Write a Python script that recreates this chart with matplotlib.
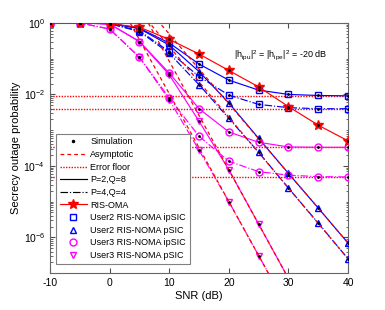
import numpy as np
import matplotlib
matplotlib.use("Agg")
import matplotlib.pyplot as plt
from matplotlib.lines import Line2D
from matplotlib.ticker import FixedLocator, LogLocator, NullFormatter

plt.rcParams["font.family"] = ["Liberation Sans", "DejaVu Sans"]
plt.rcParams["mathtext.fontset"] = "custom"
plt.rcParams["mathtext.rm"] = "Liberation Sans"
plt.rcParams["axes.unicode_minus"] = False

# SNR (dB) and outage probabilities as log10 exponents
snr = [-10, -5, 0, 5, 10, 15, 20, 25, 30, 35, 40]
oma = [0, 0, -0.02, -0.12, -0.46, -0.87, -1.33, -1.79, -2.34, -2.86, -3.30]
u2_ipsic_p2 = [0, 0, -0.01, -0.15, -0.56, -1.15, -1.60, -1.88, -2.00, -2.03, -2.04]
u2_ipsic_p4 = [0, 0, -0.02, -0.22, -0.80, -1.50, -2.02, -2.28, -2.37, -2.40, -2.40]
u2_psic_p2 = [0, 0, -0.01, -0.16, -0.62, -1.36, -2.24, -3.23, -4.21, -5.18, -6.16]
u2_psic_p4 = [0, 0, -0.02, -0.24, -0.85, -1.73, -2.67, -3.62, -4.62, -5.60, -6.60]
u3_ipsic_p2 = [0, 0, -0.03, -0.52, -1.40, -2.40, -3.05, -3.34, -3.47, -3.48, -3.48]
u3_ipsic_p4 = [0, 0, -0.17, -0.96, -2.10, -3.17, -3.87, -4.16, -4.26, -4.30, -4.31]
snr_u3 = [-10, -5, 0, 5, 10, 15, 20, 25, 30]
u3_psic_p2 = [0, 0, -0.03, -0.52, -1.45, -2.75, -4.11, -5.63, -7.15]
u3_psic_p4 = [0, 0, -0.17, -0.96, -2.15, -3.56, -5.00, -6.51, -8.02]

# asymptotes (red dashed) and error floors (red dotted)
snr_asym = [0, 5, 10, 15, 20, 25, 30, 35, 40]
asym_u2_p2 = [1.64, 0.66, -0.31, -1.29, -2.26, -3.24, -4.21, -5.18, -6.16]
asym_u2_p4 = [1.33, 0.34, -0.66, -1.65, -2.64, -3.63, -4.62, -5.61, -6.60]
snr_asym_u3 = [0, 5, 10, 15, 20, 25, 30]
asym_u3_p2 = [1.97, 0.45, -1.07, -2.59, -4.11, -5.63, -7.15]
asym_u3_p4 = [1.04, -0.47, -1.98, -3.49, -5.00, -6.51, -8.02]
floors = [-2.04, -2.40, -3.48, -4.31]

BLUE, MAG, RED = (0, 0, 1), (1, 0, 1), (1, 0, 0)
lw = 0.85
ms = 5


def p(v):
    return 10.0 ** np.asarray(v, dtype=float)


fig = plt.figure(figsize=(3.85, 3.10), dpi=100)
ax = fig.add_axes([0.130, 0.119, 0.774, 0.807])

for f in floors:
    ax.plot([-10, 40], [10.0 ** f] * 2, color=RED, lw=1.0, dashes=(1, 1), zorder=1)

curves = [
    (snr, u2_ipsic_p2, BLUE, "s", "-"),
    (snr, u2_ipsic_p4, BLUE, "s", "-."),
    (snr, u2_psic_p2, BLUE, "^", "-"),
    (snr, u2_psic_p4, BLUE, "^", "-."),
    (snr, u3_ipsic_p2, MAG, "o", "-"),
    (snr, u3_ipsic_p4, MAG, "o", "-."),
    (snr_u3, u3_psic_p2, MAG, "v", "-"),
    (snr_u3, u3_psic_p4, MAG, "v", "-."),
]
for x, y, c, m, ls in curves:
    ax.plot(x, p(y), ls=ls, color=c, lw=lw, marker=m, ms=ms, mfc="none",
            mew=1.0, zorder=3)
ax.plot(snr, p(oma), "-", color=RED, lw=lw, marker="*", ms=7, zorder=3)

for x, y in [(snr_asym, asym_u2_p2), (snr_asym, asym_u2_p4),
             (snr_asym_u3, asym_u3_p2), (snr_asym_u3, asym_u3_p4)]:
    ax.plot(x, p(y), color=RED, lw=0.9, dashes=(3, 2.5), zorder=4)

# simulation dots
for x, y, c, m, ls in curves:
    ax.plot(x, p(y), ".", color="k", ms=2, zorder=5)
ax.plot(snr, p(oma), ".", color="k", ms=2, zorder=5)

ax.set_yscale("log")
ax.set_xlim(-10, 40)
ax.set_ylim(1e-7, 1)
ax.set_xticks([-10, 0, 10, 20, 30, 40])
ax.yaxis.set_major_locator(FixedLocator([1e-6, 1e-4, 1e-2, 1e0]))
ax.yaxis.set_minor_locator(LogLocator(base=10, subs=np.arange(1, 10), numticks=20))
ax.yaxis.set_minor_formatter(NullFormatter())
ax.tick_params(which="both", direction="in", top=True, right=True,
               labelsize=7.5, color="0.3")
ax.tick_params(which="major", length=3.5)
ax.tick_params(which="minor", length=1.8)
for s in ax.spines.values():
    s.set_color("0.4")
    s.set_linewidth(0.8)

ax.set_xlabel("SNR (dB)", fontsize=8, labelpad=2)
ax.set_ylabel("Secrecy outage probability", fontsize=8, labelpad=2)

ax.text(28.6, 10.0 ** -0.89,
        r"$\mathregular{|h_{ipu}|^2}$ = $\mathregular{|h_{ipe}|^2}$ = -20 dB",
        fontsize=6.5, ha="center", va="center")

handles = [
    Line2D([], [], ls="none", marker=".", color="k", ms=3),
    Line2D([], [], color=RED, lw=0.9, dashes=(3, 2.5)),
    Line2D([], [], color=RED, lw=1.0, dashes=(1, 1)),
    Line2D([], [], ls="-", color="k", lw=lw),
    Line2D([], [], ls="-.", color="k", lw=lw),
    Line2D([], [], ls="-", color=RED, lw=lw, marker="*", ms=7),
    Line2D([], [], ls="none", color=BLUE, marker="s", ms=ms, mfc="none"),
    Line2D([], [], ls="none", color=BLUE, marker="^", ms=ms, mfc="none"),
    Line2D([], [], ls="none", color=MAG, marker="o", ms=ms, mfc="none"),
    Line2D([], [], ls="none", color=MAG, marker="v", ms=ms, mfc="none"),
]
labels = ["Simulation", "Asymptotic", "Error floor", "P=2,Q=8", "P=4,Q=4",
          "RIS-OMA", "User2 RIS-NOMA ipSIC", "User2 RIS-NOMA pSIC",
          "User3 RIS-NOMA ipSIC", "User3 RIS-NOMA pSIC"]
leg = ax.legend(handles, labels, loc="lower left", bbox_to_anchor=(0.005, 0.02),
                fontsize=6.5, handlelength=3.0, labelspacing=0.4,
                handletextpad=0.4, borderpad=0.4, fancybox=False,
                framealpha=1, edgecolor="0.5")
leg.get_frame().set_linewidth(0.8)
leg.set_zorder(10)

fig.savefig("out.png", dpi=100)
